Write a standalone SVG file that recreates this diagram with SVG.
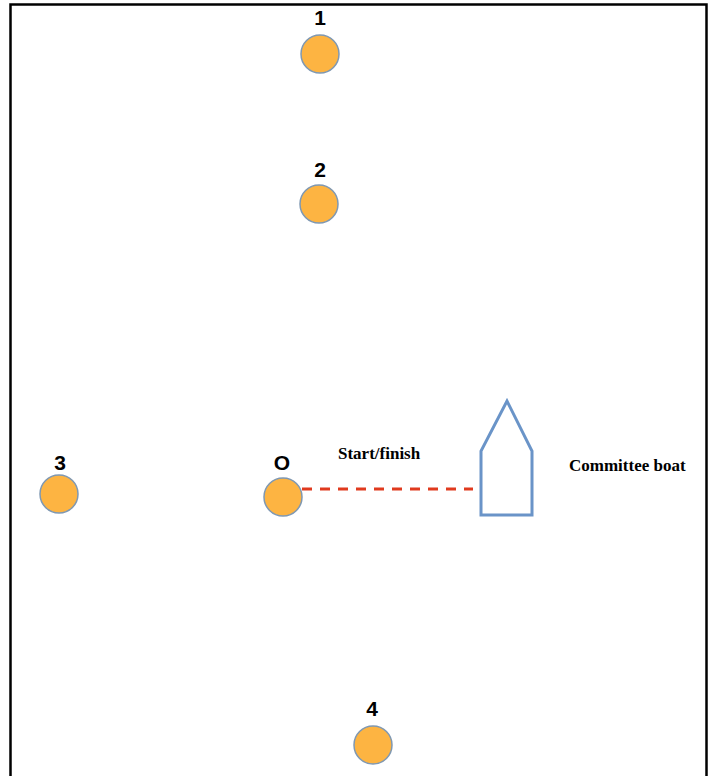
<svg xmlns="http://www.w3.org/2000/svg" width="713" height="776" viewBox="0 0 713 776">
<style>
.mark{fill:#fdb442;stroke:#7f98b2;stroke-width:1.5}
.lbl{font-family:"Liberation Sans",Arial,sans-serif;font-weight:bold;font-size:21px;text-anchor:middle;fill:#000}
.txt{font-family:"Liberation Serif","Times New Roman",serif;font-weight:bold;font-size:17px;fill:#000}
</style>
<rect width="713" height="776" fill="#fff"/>
<path d="M10.5 780 V4.5 H706.5 V780" fill="none" stroke="#000" stroke-width="2.5"/>
<g id="mark1"><circle class="mark" cx="320" cy="54" r="19"/><text class="lbl" x="320" y="25">1</text></g>
<g id="mark2"><circle class="mark" cx="319" cy="204" r="19"/><text class="lbl" x="320" y="177">2</text></g>
<g id="mark3"><circle class="mark" cx="59" cy="494" r="19"/><text class="lbl" x="60" y="470">3</text></g>
<g id="markO"><circle class="mark" cx="283" cy="497" r="19"/><text class="lbl" x="282" y="470">O</text></g>
<g id="mark4"><circle class="mark" cx="373" cy="745" r="19"/><text class="lbl" x="372" y="716">4</text></g>
<g id="boat"><polygon points="481,515 481,451 507,401 532,451 532,515" fill="none" stroke="#6a94c8" stroke-width="3"/></g>
<g id="connectors"><line x1="302" y1="489" x2="473" y2="489" stroke="#e03a1e" stroke-width="3" stroke-dasharray="10 8"/></g>
<text class="txt" x="338" y="459">Start/finish</text>
<text class="txt" x="569" y="471">Committee boat</text>
</svg>
